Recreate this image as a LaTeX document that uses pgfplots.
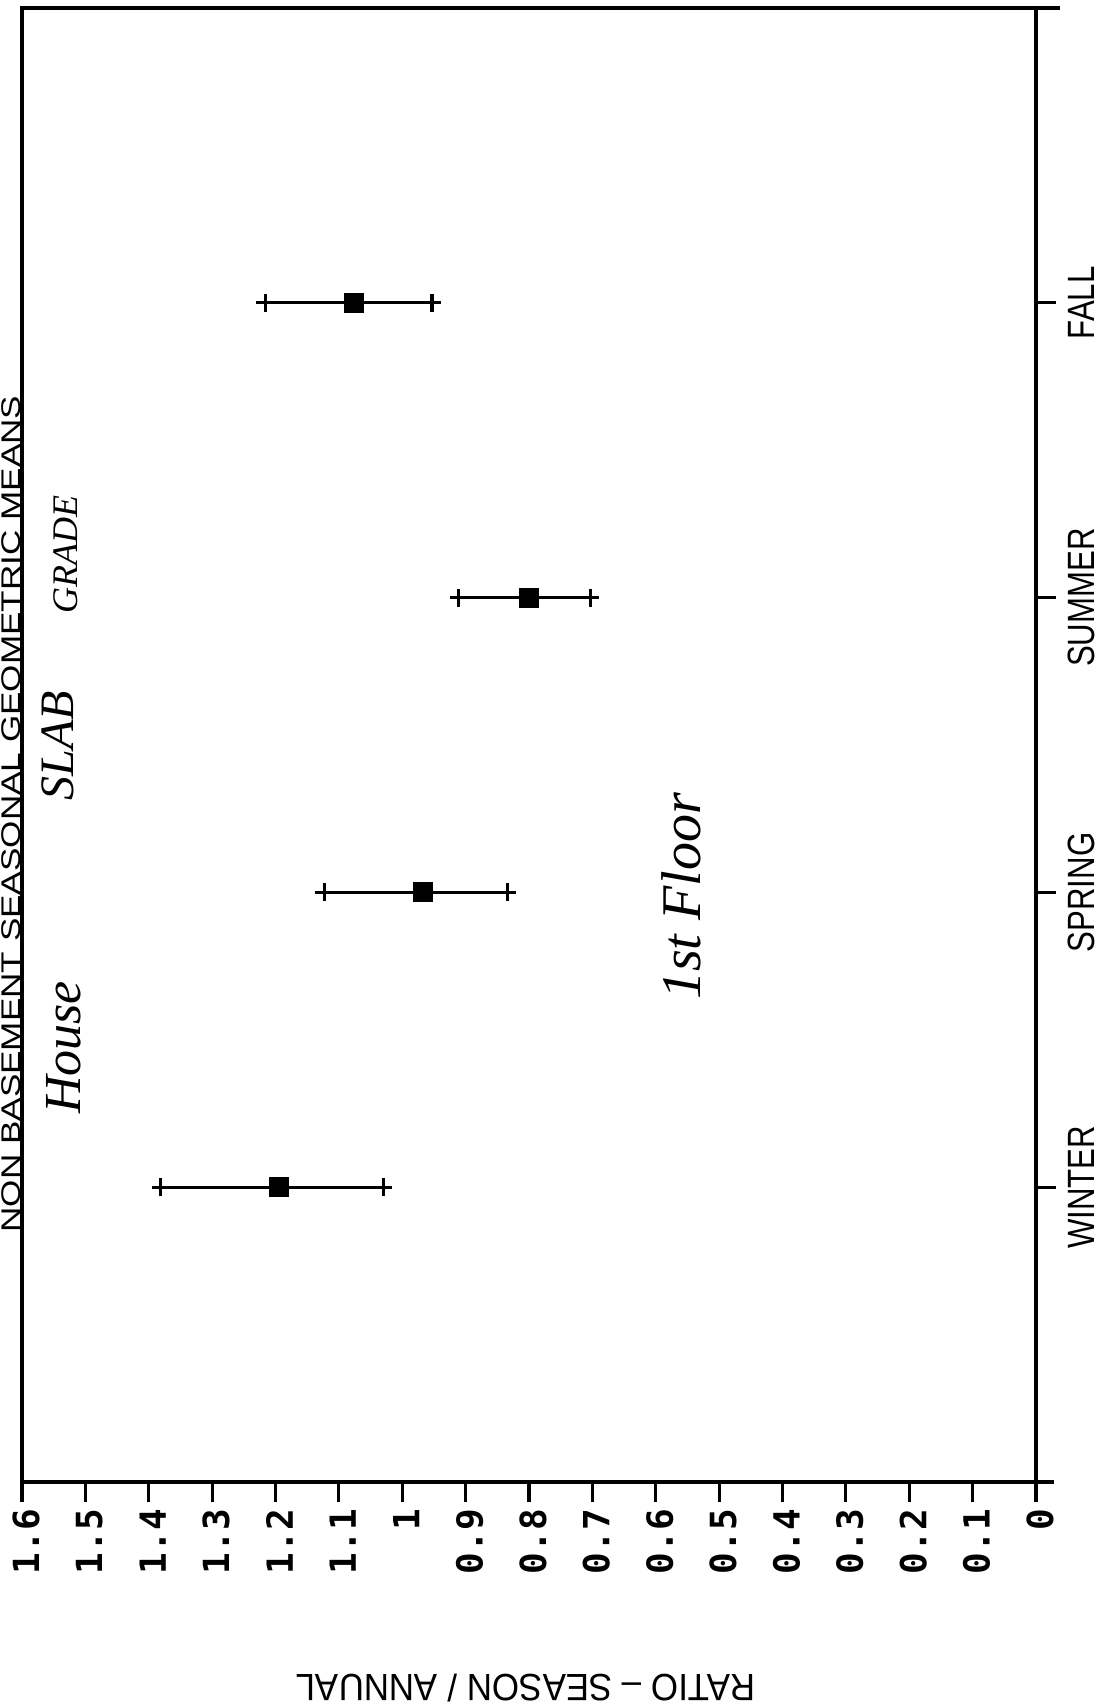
\documentclass[border=0pt]{standalone}
\usepackage{fontspec}
\usepackage{pgfplots}
\pgfplotsset{compat=1.18}
\setmainfont{Liberation Sans}
\newfontfamily\plotfont[FakeStretch=0.82]{Liberation Sans}
\newfontfamily\titlefont[FakeStretch=1.3]{Liberation Sans}
\newfontfamily\labelfont[FakeStretch=0.92]{Liberation Sans}
\newfontfamily\tickfont{DejaVu Sans Mono}
\newfontfamily\handfont{Liberation Serif}
\begin{document}
\begin{tikzpicture}
\useasboundingbox (0,0) rectangle (550.5pt,852pt);
\begin{axis}[
  at={(11pt,111pt)}, anchor=south west,
  width=507pt, height=737pt, scale only axis,
  x dir=reverse, xmin=0, xmax=1.6, ymin=0, ymax=5,
  clip=false,
  axis line style={line width=1.8pt},
  xtick={0,0.1,0.2,0.3,0.4,0.5,0.6,0.7,0.8,0.9,1,1.1,1.2,1.3,1.4,1.5,1.6},
  xticklabels={0,0.1,0.2,0.3,0.4,0.5,0.6,0.7,0.8,0.9,1,1.1,1.2,1.3,1.4,1.5,1.6},
  xtick pos=bottom, ytick pos=right, yticklabel pos=right,
  tick align=outside,
  major tick length=10pt,
  every tick/.style={black, line width=1.6pt},
  xticklabel style={font=\tickfont\bfseries\fontsize{18}{18}\selectfont, rotate=90, anchor=east, yshift=-2pt},
  ytick={1,2,3,4}, yticklabels={WINTER,SPRING,SUMMER,FALL},
  yticklabel style={font=\plotfont\fontsize{19}{19}\selectfont, xshift=2.5pt, rotate=90, anchor=north},
  xlabel={RATIO – SEASON / ANNUAL},
  xlabel style={at={(axis description cs:0.497,-0.1398)}, anchor=center, rotate=180, font=\labelfont\fontsize{19}{19}\selectfont},
  title={NON BASEMENT SEASONAL GEOMETRIC MEANS},
  title style={at={(axis description cs:-0.0015,0.445)}, anchor=base, rotate=90, font=\titlefont\fontsize{13.5}{13.5}\selectfont},
]
\addplot[only marks, black, mark=square*, mark size=4.75pt,
  mark options={fill=black, draw=black, line width=0.4pt},
  error bars/.cd, x dir=both, x explicit, error mark=+,
  error bar style={line width=1.6pt, black},
  error mark options={mark size=4.5pt, line width=1.6pt, black}]
coordinates {
  (1.194,1) += (0.187,0) -= (0.164,0)
  (0.968,2) += (0.155,0) -= (0.134,0)
  (0.800,3) += (0.111,0) -= (0.097,0)
  (1.077,4) += (0.139,0) -= (0.124,0)
};
\draw[line width=1.8pt] (axis description cs:1,1) -- ++(12pt,0);
\draw[line width=1.8pt] (axis description cs:1,0) -- ++(9pt,0);
\draw[line width=1.8pt] (axis description cs:1,0) -- ++(0,-10pt);
\node[rotate=90, font=\handfont\itshape\fontsize{26}{26}\selectfont] at (axis cs:1.534,1.474) {House};
\node[rotate=90, font=\handfont\itshape\fontsize{24}{24}\selectfont] at (axis cs:1.543,2.498) {SLAB};
\node[rotate=90, font=\handfont\itshape\fontsize{18}{18}\selectfont] at (axis cs:1.531,3.147) {GRADE};
\node[rotate=90, font=\handfont\itshape\fontsize{28}{28}\selectfont] at (axis cs:0.56,1.986) {1st Floor};
\end{axis}
\end{tikzpicture}
\end{document}
